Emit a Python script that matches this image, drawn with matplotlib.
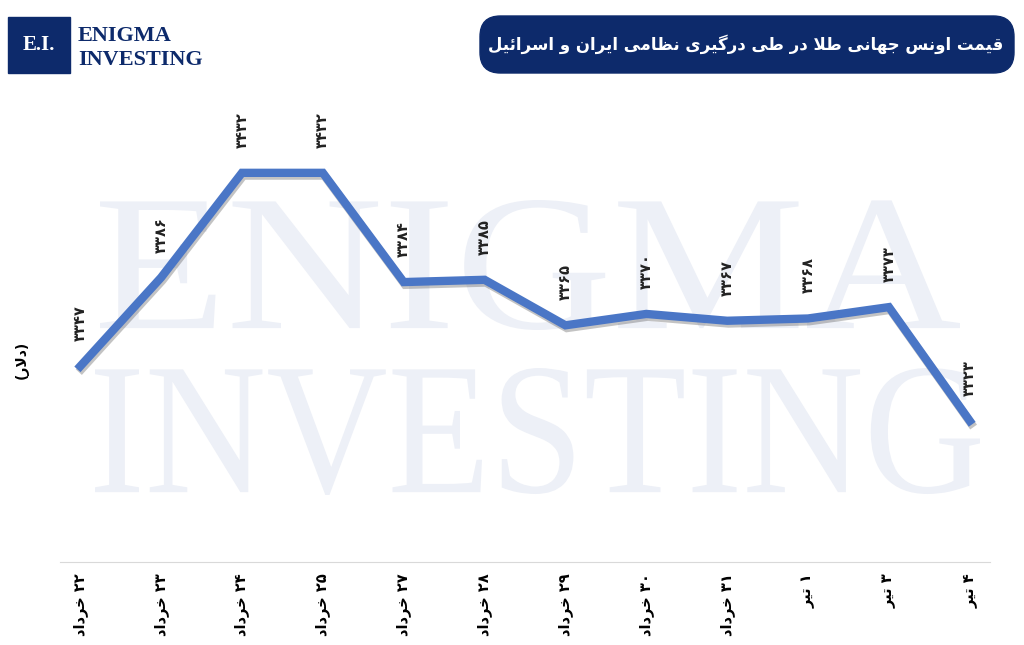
import matplotlib
matplotlib.use("Agg")
import matplotlib.pyplot as plt
from matplotlib.patches import FancyBboxPatch, Rectangle, PathPatch
from matplotlib.textpath import TextPath
from matplotlib.font_manager import FontProperties
from matplotlib.transforms import Affine2D
import matplotlib.patheffects as pe

days = ["۲۲ خرداد", "۲۳ خرداد", "۲۴ خرداد", "۲۵ خرداد", "۲۷ خرداد", "۲۸ خرداد",
        "۲۹ خرداد", "۳۰ خرداد", "۳۱ خرداد", "۱ تیر", "۳ تیر", "۴ تیر"]
prices = [3347, 3386, 3432, 3432, 3384, 3385, 3365, 3370, 3367, 3368, 3373, 3323]
title = "قیمت اونس جهانی طلا در طی درگیری نظامی ایران و اسرائیل"
ylab = "(دلار)"

# minimal Arabic/Persian shaper (iso, fin, ini, med)
FORMS = {
    'ا': ('\uFE8D', '\uFE8E', None, None), 'ئ': ('\uFE89', '\uFE8A', '\uFE8B', '\uFE8C'),
    'ت': ('\uFE95', '\uFE96', '\uFE97', '\uFE98'), 'ج': ('\uFE9D', '\uFE9E', '\uFE9F', '\uFEA0'),
    'خ': ('\uFEA5', '\uFEA6', '\uFEA7', '\uFEA8'), 'د': ('\uFEA9', '\uFEAA', None, None),
    'ر': ('\uFEAD', '\uFEAE', None, None), 'س': ('\uFEB1', '\uFEB2', '\uFEB3', '\uFEB4'),
    'ط': ('\uFEC1', '\uFEC2', '\uFEC3', '\uFEC4'), 'ظ': ('\uFEC5', '\uFEC6', '\uFEC7', '\uFEC8'),
    'ق': ('\uFED5', '\uFED6', '\uFED7', '\uFED8'), 'ل': ('\uFEDD', '\uFEDE', '\uFEDF', '\uFEE0'),
    'م': ('\uFEE1', '\uFEE2', '\uFEE3', '\uFEE4'), 'ن': ('\uFEE5', '\uFEE6', '\uFEE7', '\uFEE8'),
    'ه': ('\uFEE9', '\uFEEA', '\uFEEB', '\uFEEC'), 'و': ('\uFEED', '\uFEEE', None, None),
    'ی': ('\uFBFC', '\uFBFD', '\uFBFE', '\uFBFF'), 'گ': ('\uFB92', '\uFB93', '\uFB94', '\uFB95'),
    'LA': ('\uFEFB', '\uFEFC', None, None),
}

def shape(s):
    chars = []
    i = 0
    while i < len(s):
        if s[i] == 'ل' and i + 1 < len(s) and s[i + 1] == 'ا':
            chars.append('LA'); i += 2
        else:
            chars.append(s[i]); i += 1
    out = []
    for k, c in enumerate(chars):
        if c not in FORMS:
            out.append(c); continue
        prev = chars[k - 1] if k > 0 else None
        nxt = chars[k + 1] if k + 1 < len(chars) else None
        jp = prev in FORMS and FORMS[prev][2] is not None
        jn = nxt in FORMS and FORMS[c][2] is not None
        f = FORMS[c]
        if jp and jn: out.append(f[3])
        elif jp: out.append(f[1])
        elif jn: out.append(f[2])
        else: out.append(f[0])
    res = ''.join(out)
    tokens, buf = [], ''
    for ch in res:
        if '\u06F0' <= ch <= '\u06F9' or ch.isdigit():
            buf += ch
        else:
            if buf: tokens.append(buf); buf = ''
            tokens.append({'(': ')', ')': '('}.get(ch, ch))
    if buf: tokens.append(buf)
    return ''.join(tokens[::-1])

def fa(n):
    return str(n).translate(str.maketrans("0123456789", "۰۱۲۳۴۵۶۷۸۹"))

plt.rcParams['font.family'] = ['DejaVu Sans']
fig = plt.figure(figsize=(10.24, 6.45), dpi=100)

# background axes in pixel coords for watermark
bg = fig.add_axes([0, 0, 1, 1], zorder=0)
bg.set_xlim(0, 1024); bg.set_ylim(645, 0); bg.axis('off')
wfp = FontProperties(family='Liberation Serif')
def watermark(txt, x0, x1, y0, y1):
    tp = TextPath((0, 0), txt, size=100, prop=wfp)
    ext = tp.get_extents()
    sx = (x1 - x0) / ext.width
    sy = (y1 - y0) / ext.height
    tr = Affine2D().translate(-ext.x0, -ext.y0).scale(sx, -sy).translate(x0, y1)
    bg.add_patch(PathPatch(tr.transform_path(tp), color='#edf0f7', lw=0))
watermark("ENIGMA", 100, 960, 200, 330)
watermark("INVESTING", 95, 980, 368, 495)

ax = fig.add_axes([60 / 1024, 83 / 645, 930 / 1024, 462 / 645], zorder=1)
x = list(range(len(prices)))
navy = '#0d2a6b'

ax.plot(x, prices, color='#4a76c6', lw=6, solid_joinstyle='miter', zorder=3,
        path_effects=[pe.SimpleLineShadow(offset=(1, -2), shadow_color='#555555', alpha=0.35),
                      pe.Normal()])
for xi, p in zip(x, prices):
    ax.annotate(fa(p), (xi, p), xytext=(0, 18), textcoords='offset points', rotation=90,
                ha='center', va='bottom', fontsize=10.5, fontweight='bold', color='#222222')

ax.set_xlim(-0.25, 11.25)
ax.set_ylim(3261, 3464)
ax.set_xticks(x)
ax.set_xticklabels([shape(d) for d in days], rotation=90, fontsize=10.5, fontweight='bold')
ax.tick_params(axis='x', length=0, pad=8)
ax.set_yticks([])
for s in ['left', 'right', 'top']:
    ax.spines[s].set_visible(False)
ax.spines['bottom'].set_color('#d9d9d9')
ax.patch.set_alpha(0)

fig.text(22 / 1024, 1 - 360 / 645, shape(ylab), rotation=90, ha='center', va='center',
         fontsize=10, fontweight='bold')

# logo
fig.patches.append(Rectangle((8 / 1024, 1 - 73 / 645), 62 / 1024, 56 / 645,
                             transform=fig.transFigure, color=navy))
fig.text(39 / 1024, 1 - 45 / 645, "E.I.", color='white', fontsize=15, family='Liberation Serif',
         fontweight='bold', ha='center', va='center')
fig.text(78 / 1024, 1 - 36 / 645, "ENIGMA", color=navy, fontsize=16, family='Liberation Serif',
         fontweight='bold', ha='left', va='center')
fig.text(78 / 1024, 1 - 60 / 645, "INVESTING", color=navy, fontsize=16, family='Liberation Serif',
         fontweight='bold', ha='left', va='center')

# title box
fig.patches.append(FancyBboxPatch((480 / 1024, 1 - 73 / 645), 534 / 1024, 57 / 645,
                                  boxstyle="round,pad=0,rounding_size=0.02",
                                  transform=fig.transFigure, color=navy, mutation_aspect=1.6))
fig.text(1003 / 1024, 1 - 44 / 645, shape(title), color='white', fontsize=12, fontweight='bold',
         ha='right', va='center')

fig.savefig("out.png", dpi=100, facecolor='white')
